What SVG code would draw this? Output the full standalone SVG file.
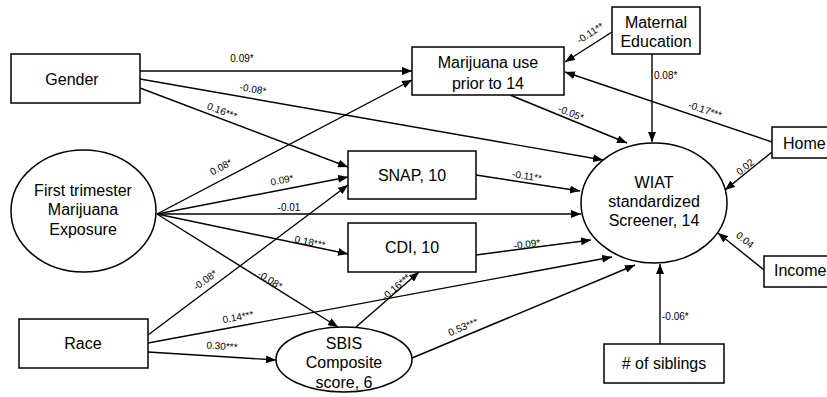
<svg xmlns="http://www.w3.org/2000/svg" width="827" height="397" viewBox="0 0 827 397">
<defs>
<marker id="ah" viewBox="0 0 10 8" refX="10" refY="4" markerWidth="10" markerHeight="8" markerUnits="userSpaceOnUse" orient="auto">
<path d="M0,0 L10,4 L0,8 z" fill="#000"/>
</marker>
</defs>
<style>
.n{fill:#fff;stroke:#000;stroke-width:1.5}
.t{font-family:"Liberation Sans",Arial,sans-serif;font-size:16px;fill:#000;text-anchor:middle}
.ts{font-family:"Liberation Sans",Arial,sans-serif;font-size:16px;fill:#000}
.c{stroke:#000;stroke-width:1.4;fill:none;marker-end:url(#ah)}
.l{font-family:"Liberation Sans",Arial,sans-serif;font-size:10px;fill:#000;text-anchor:middle}
.ls{font-family:"Liberation Sans",Arial,sans-serif;font-size:10px;fill:#000}
</style>
<rect width="827" height="397" fill="#fff"/>
<g id="connectors">
<line class="c" x1="140" y1="71" x2="412" y2="71"/>
<line class="c" x1="140" y1="79" x2="603" y2="160"/>
<line class="c" x1="140" y1="88" x2="348" y2="167"/>
<line class="c" x1="157" y1="214" x2="412" y2="80"/>
<line class="c" x1="157" y1="214" x2="348" y2="177"/>
<line class="c" x1="157" y1="214" x2="581" y2="214"/>
<line class="c" x1="157" y1="214" x2="348" y2="254"/>
<line class="c" x1="157" y1="214" x2="338" y2="327"/>
<line class="c" x1="148" y1="335" x2="348" y2="185"/>
<line class="c" x1="148" y1="343" x2="612" y2="257"/>
<line class="c" x1="148" y1="352" x2="276" y2="360"/>
<line class="c" x1="356" y1="327" x2="419" y2="272"/>
<line class="c" x1="412" y1="358" x2="635" y2="265"/>
<line class="c" x1="476" y1="175" x2="580" y2="191"/>
<line class="c" x1="476" y1="255" x2="591" y2="240"/>
<line class="c" x1="510" y1="95" x2="627" y2="143"/>
<line class="c" x1="612" y1="32" x2="565" y2="62"/>
<line class="c" x1="652" y1="54" x2="652" y2="142"/>
<line class="c" x1="772" y1="142" x2="565" y2="72"/>
<line class="c" x1="772" y1="152" x2="725" y2="190"/>
<line class="c" x1="764" y1="270" x2="718" y2="233"/>
<line class="c" x1="660" y1="344" x2="660" y2="264"/>
<text class="l" x="242" y="62">0.09*</text>
<text class="l" transform="translate(253,89) rotate(9.9)" dy="0.35em">-0.08*</text>
<text class="l" transform="translate(222,111) rotate(21)" dy="0.35em">0.16***</text>
<text class="l" transform="translate(221,167) rotate(-27.5)" dy="0.35em">0.08*</text>
<text class="l" transform="translate(282,180) rotate(-11)" dy="0.35em">0.09*</text>
<text class="l" x="289" y="211">-0.01</text>
<text class="l" transform="translate(310,242) rotate(11.8)" dy="0.35em">0.18***</text>
<text class="l" transform="translate(270,280) rotate(32)" dy="0.35em">-0.08*</text>
<text class="l" transform="translate(205,280) rotate(-37)" dy="0.35em">-0.08*</text>
<text class="l" transform="translate(238,317) rotate(-10.5)" dy="0.35em">0.14***</text>
<text class="l" transform="translate(222,346) rotate(3.6)" dy="0.35em">0.30***</text>
<text class="l" transform="translate(396,287) rotate(-41)" dy="0.35em">-0.16***</text>
<text class="l" transform="translate(463,327) rotate(-22.6)" dy="0.35em">0.53***</text>
<text class="l" transform="translate(527,176) rotate(8.7)" dy="0.35em">-0.11**</text>
<text class="l" transform="translate(527,244) rotate(-7.5)" dy="0.35em">-0.09*</text>
<text class="l" transform="translate(571,113) rotate(22)" dy="0.35em">-0.05*</text>
<text class="l" transform="translate(590,33) rotate(-33)" dy="0.35em">-0.11**</text>
<text class="ls" x="654" y="79">0.08*</text>
<text class="l" transform="translate(705,110) rotate(18.7)" dy="0.35em">-0.17***</text>
<text class="l" transform="translate(745,167) rotate(-39)" dy="0.35em">0.02</text>
<text class="l" transform="translate(745,240) rotate(39)" dy="0.35em">0.04</text>
<text class="ls" x="662" y="320">-0.06*</text>
</g>
<g id="gender"><rect class="n" x="11" y="54" width="129" height="49"/><text class="t" x="72" y="85">Gender</text></g>
<g id="marijuana-use"><rect class="n" x="412" y="47" width="152" height="48"/><text class="t" x="488" y="68">Marijuana use</text><text class="t" x="488" y="89">prior to 14</text></g>
<g id="maternal-education"><rect class="n" x="612" y="7" width="88" height="47"/><text class="t" x="656" y="28">Maternal</text><text class="t" x="656" y="47">Education</text></g>
<g id="home"><rect class="n" x="772" y="127" width="70" height="31"/><text class="ts" x="783" y="149">Home</text></g>
<g id="first-trimester"><ellipse class="n" cx="83.5" cy="211" rx="72.5" ry="61"/><text class="t" x="83" y="196">First trimester</text><text class="t" x="83" y="215">Marijuana</text><text class="t" x="83" y="235">Exposure</text></g>
<g id="snap"><rect class="n" x="348" y="151" width="128" height="48"/><text class="t" x="412" y="181">SNAP, 10</text></g>
<g id="cdi"><rect class="n" x="348" y="223" width="128" height="49"/><text class="t" x="412" y="253">CDI, 10</text></g>
<g id="wiat"><ellipse class="n" cx="654" cy="203" rx="73" ry="60"/><text class="t" x="654" y="188">WIAT</text><text class="t" x="654" y="207">standardized</text><text class="t" x="654" y="226">Screener, 14</text></g>
<g id="income"><rect class="n" x="764" y="256" width="75" height="31"/><text class="ts" x="774" y="276">Income</text></g>
<g id="race"><rect class="n" x="19" y="319" width="129" height="49"/><text class="t" x="83" y="349">Race</text></g>
<g id="sbis"><ellipse class="n" cx="344" cy="359.5" rx="68" ry="32.5"/><text class="t" x="344" y="349">SBIS</text><text class="t" x="344" y="368">Composite</text><text class="t" x="344" y="388">score, 6</text></g>
<g id="siblings"><rect class="n" x="604" y="344" width="120" height="39"/><text class="t" x="664" y="369"># of siblings</text></g>
</svg>
